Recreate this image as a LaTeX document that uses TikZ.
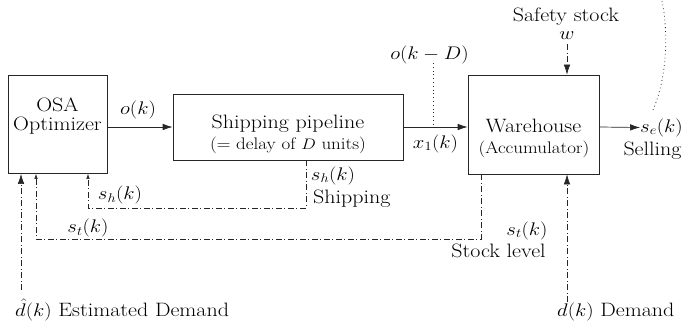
\documentclass[tikz,border=0pt]{standalone}
\usetikzlibrary{arrows.meta}
\begin{document}
\begin{tikzpicture}[x=1pt,y=-1pt,
  font=\fontsize{22}{26}\selectfont,
  box/.style={draw=black!85, line width=0.7pt, inner sep=0pt},
  squash/.style={yscale=0.88, transform shape},
  txt/.style={inner sep=0pt, anchor=base, squash},
  lab/.style={inner sep=0pt, font=\fontsize{21}{25}\selectfont, squash},
  subtxt/.style={inner sep=0pt, anchor=base, font=\fontsize{19}{22}\selectfont, squash},
  flow/.style={draw=black!85, line width=0.7pt, -{Latex[length=10pt,width=6.5pt]}},
  dashdot/.style={draw=black!85, line width=0.6pt, dash pattern=on 6pt off 2.5pt on 1pt off 2.5pt},
  bigtip/.style={-{Latex[length=10pt,width=6.5pt]}},
  smalltip/.style={-{Latex[length=5pt,width=3.5pt]}},
  dots/.style={draw=black!85, line width=0.8pt, dash pattern=on 0.8pt off 3pt}]
\useasboundingbox (0,0) rectangle (684,321);

% boxes
\node[box, minimum width=99pt, minimum height=98pt] (osa) at (57.5,124.5) {};
\node[box, minimum width=230pt, minimum height=66pt] (pipe) at (288,127) {};
\node[box, minimum width=131pt, minimum height=99pt] (wh) at (533.5,124.5) {};

% box texts
\node[txt] (osaA) at (57.5,111) {OSA};
\node[txt] (osaB) at (57.5,130) {Optimizer};
\node[txt] (pipeA) at (288,128.5) {Shipping pipeline};
\node[subtxt] (pipeB) at (288,149) {(= delay of $D$ units)};
\node[txt] (whA) at (533.5,132.5) {Warehouse};
\node[subtxt] (whB) at (534,153) {(Accumulator)};

% labels
\node[lab] (ok) at (138,109.5) {$o(k)$};
\node[lab] (x1) at (435.5,143.5) {$x_1(k)$};
\node[lab] (okD) at (429.5,55) {$o(k-D)$};
\node[txt] (safety) at (566,22) {Safety stock};
\node[lab] (w) at (567,36) {$w$};
\node[lab] (se) at (661.5,127.5) {$s_e(k)$};
\node[txt] (selling) at (652.5,155) {Selling};
\node[lab] (shR) at (333,175.5) {$s_h(k)$};
\node[txt, anchor=base west] (shipping) at (313,203) {Shipping};
\node[lab] (shL) at (120,195) {$s_h(k)$};
\node[lab] (stL) at (88,228) {$s_t(k)$};
\node[lab] (stR) at (527,230.5) {$s_t(k)$};
\node[txt] (stock) at (498.5,257) {Stock level};
\node[txt, anchor=base west] (dhat) at (15,316.5) {$\hat{d}(k)$ Estimated Demand};
\node[txt, anchor=base west] (dem) at (557,316.5) {$d(k)$ Demand};

% coordinates
\coordinate (shc1) at (306,208);
\coordinate (shc2) at (88,208);
\coordinate (stc1) at (481,239);
\coordinate (stc2) at (36,239);
\coordinate (dhc) at (21,290);
\coordinate (dc) at (567,302);
\coordinate (odc) at (433.5,63);
\coordinate (curveA) at (653,110);
\coordinate (curveB) at (662,1);

% main flow
\draw[flow] (osa.east |- pipe.west) -- (pipe.west);
\draw[flow] (pipe.east) -- (wh.west |- pipe.east);
\draw[flow] (wh.east |- pipe.east) -- (se.west);

% safety stock input
\draw[dashdot, bigtip, shorten <=4pt] (w.south) -- (w |- wh.north);

% demand inputs
\draw[dashdot, bigtip] (dc) -- (dc |- wh.south);
\draw[dashdot, bigtip] (dhc) -- (dhc |- osa.south);

% feedback
\draw[dashdot, smalltip] (shc1 |- pipe.south) -- (shc1) -- (shc2) -- (shc2 |- osa.south);
\draw[dashdot, smalltip] (stc1 |- wh.south) -- (stc1) -- (stc2) -- (stc2 |- osa.south);

% dotted
\draw[dots] (odc) -- (odc |- pipe.east);
\draw[dots] (curveA) .. controls (668,75) and (668,30) .. (curveB);
\end{tikzpicture}
\end{document}
